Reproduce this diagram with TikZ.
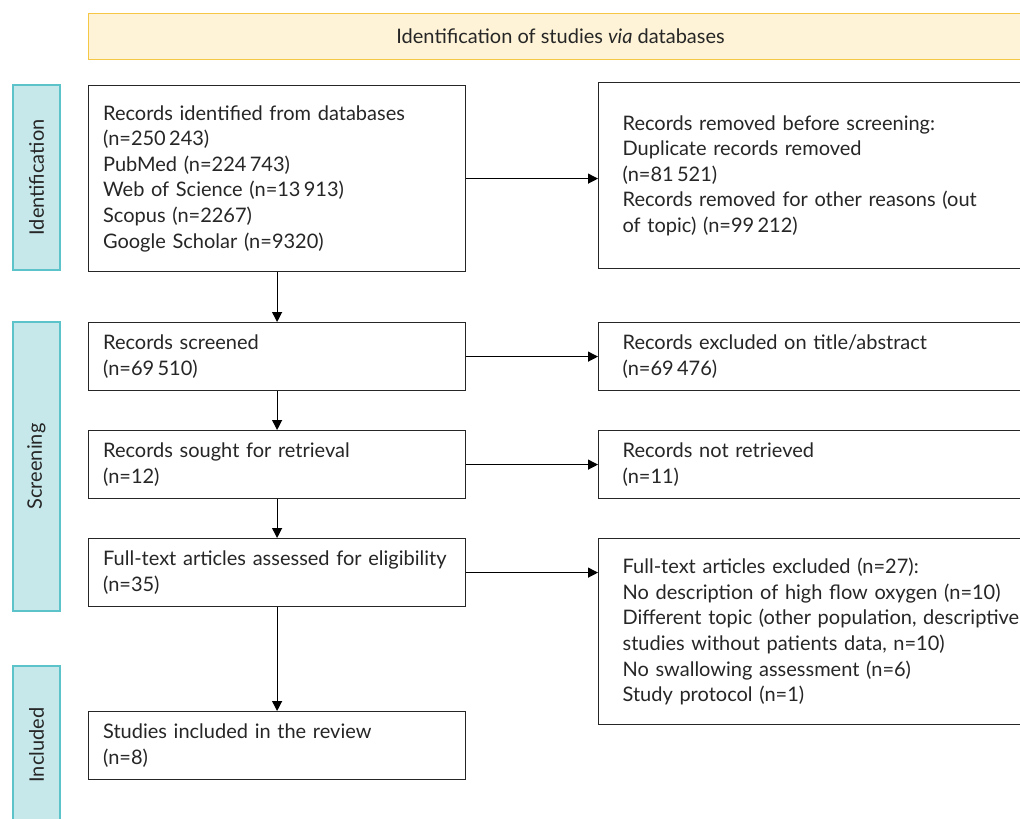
\documentclass[tikz,border=0pt]{standalone}
\usepackage{fontspec}
\setmainfont{Lato}
\usetikzlibrary{arrows.meta,positioning}
\definecolor{bannerfill}{HTML}{FEF3D6}
\definecolor{bannerline}{HTML}{F6C744}
\definecolor{phasefill}{HTML}{C6E8EA}
\definecolor{phaseline}{HTML}{5CC3CA}
\definecolor{inktext}{HTML}{262626}

\begin{document}
\begin{tikzpicture}[x=1pt,y=-1pt,->,>={Triangle[length=10pt,width=10pt]},
  line width=1.2pt,
  flow box/.style={draw=black!85,fill=white,rectangle,anchor=north west,
    inner ysep=0pt,align=left,text=inktext,font=\fontsize{20}{25.6}\selectfont},
  left box/.style={flow box,minimum width=376pt,text width=348pt,inner xsep=14.5pt},
  right box/.style={flow box,minimum width=460pt,text width=412pt,inner xsep=24pt},
  phase/.style={draw=phaseline,fill=phasefill,rectangle,rotate=90,minimum height=47pt,
    inner sep=0pt,text=inktext,font=\fontsize{20}{24}\selectfont},
  banner/.style={draw=bannerline,fill=bannerfill,rectangle,anchor=north west,
    minimum width=944pt,minimum height=46pt,inner sep=0pt,text=inktext,
    font=\fontsize{20}{24}\selectfont}]

\useasboundingbox (0,0) rectangle (1020,819);
\clip (0,0) rectangle (1020,819);

% header and phase labels
\node[banner](head) at (88,13) {Identification of studies \textit{via} databases};
\node[phase,minimum width=185pt](idphase) at (36.5,177.5) {Identification};
\node[phase,minimum width=289pt](scphase) at (36.5,466.5) {Screening};
\node[phase,minimum width=158pt](inphase) at (36.5,745) {Included};

% main column
\node[left box,minimum height=186pt](found) at (88,85) {Records identified from databases\\
  (n=250\,243)\\ PubMed (n=224\,743)\\ Web of Science (n=13\,913)\\
  Scopus (n=2267)\\ Google Scholar (n=9320)};
\node[left box,minimum height=68pt](screened) at (88,322) {Records screened\\ (n=69\,510)};
\node[left box,minimum height=68pt](sought) at (88,430) {Records sought for retrieval\\ (n=12)};
\node[left box,minimum height=68pt](assessed) at (88,538) {Full-text articles assessed for eligibility\\ (n=35)};
\node[left box,minimum height=68pt](included) at (88,711) {Studies included in the review\\ (n=8)};

% side column
\node[right box,minimum height=186pt](removed) at (598,82) {Records removed before screening:\\
  Duplicate records removed\\ (n=81\,521)\\ Records removed for other reasons (out\\
  of topic) (n=99\,212)};
\node[right box,minimum height=68pt](excluded) at (598,322) {Records excluded on title/abstract\\ (n=69\,476)};
\node[right box,minimum height=68pt](notfound) at (598,430) {Records not retrieved\\ (n=11)};
\node[right box,minimum height=186pt](ftexcl) at (598,538) {Full-text articles excluded (n=27):\\
  No description of high flow oxygen (n=10)\\ Different topic (other population, descriptive\\
  studies without patients data, n=10)\\ No swallowing assessment (n=6)\\ Study protocol (n=1)};

\path
(found) edge (screened)
(screened) edge (sought)
(sought) edge (assessed)
(assessed) edge (included);
\draw (found.east) -- (found.east -| removed.west);
\draw (screened) -- (excluded);
\draw (sought) -- (notfound);
\draw (assessed.east) -- (assessed.east -| ftexcl.west);
\end{tikzpicture}
\end{document}
